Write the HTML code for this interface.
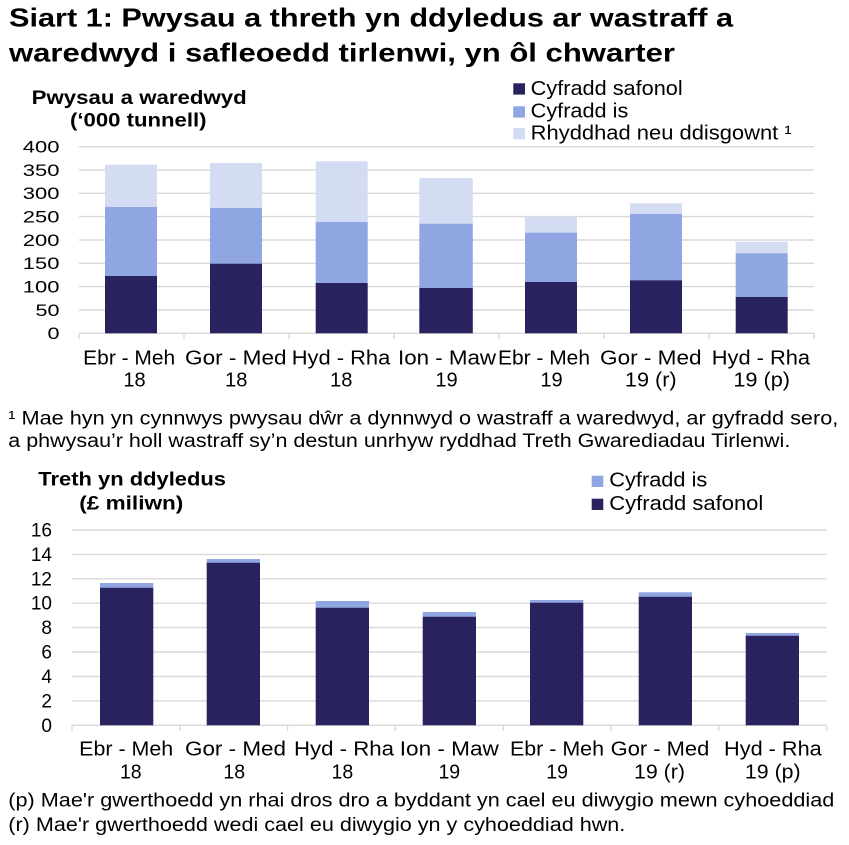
<!DOCTYPE html>
<html>
<head>
<meta charset="utf-8">
<style>
html,body{margin:0;padding:0;background:#fff;}
svg{display:block;}
text{font-family:"Liberation Sans",Arial,sans-serif;fill:#000;}
.b{font-weight:bold;}
</style>
</head>
<body>
<svg width="849" height="845" viewBox="0 0 849 845" xmlns="http://www.w3.org/2000/svg">
<!-- Title -->
<text class="b" x="9" y="26.5" font-size="26" textLength="724" lengthAdjust="spacingAndGlyphs">Siart 1: Pwysau a threth yn ddyledus ar wastraff a</text>
<text class="b" x="9" y="61.5" font-size="26" textLength="666" lengthAdjust="spacingAndGlyphs">waredwyd i safleoedd tirlenwi, yn ôl chwarter</text>

<!-- Chart 1 axis title -->
<text class="b" x="31.7" y="104" font-size="19" textLength="215" lengthAdjust="spacingAndGlyphs">Pwysau a waredwyd</text>
<text class="b" x="70" y="126.7" font-size="19" textLength="136.5" lengthAdjust="spacingAndGlyphs">(‘000 tunnell)</text>

<!-- Chart 1 legend -->
<rect x="513.3" y="83.3" width="11.7" height="11.3" fill="#28235f"/>
<text x="530.7" y="95" font-size="20" textLength="152" lengthAdjust="spacingAndGlyphs">Cyfradd safonol</text>
<rect x="513.3" y="106.3" width="11.7" height="11.3" fill="#8fa6e3"/>
<text x="530.7" y="117.3" font-size="20" textLength="97.6" lengthAdjust="spacingAndGlyphs">Cyfradd is</text>
<rect x="513.3" y="128" width="11.7" height="11.3" fill="#d3dcf3"/>
<text x="530.7" y="139.3" font-size="20" textLength="261" lengthAdjust="spacingAndGlyphs">Rhyddhad neu ddisgownt ¹</text>

<!-- Chart 1 gridlines -->
<g stroke="#d9d9d9" stroke-width="1.4">
<line x1="79" y1="146.7" x2="814" y2="146.7"/>
<line x1="79" y1="170" x2="814" y2="170"/>
<line x1="79" y1="193.3" x2="814" y2="193.3"/>
<line x1="79" y1="216.6" x2="814" y2="216.6"/>
<line x1="79" y1="240" x2="814" y2="240"/>
<line x1="79" y1="263.3" x2="814" y2="263.3"/>
<line x1="79" y1="286.6" x2="814" y2="286.6"/>
<line x1="79" y1="310" x2="814" y2="310"/>
<line x1="79" y1="333.3" x2="814" y2="333.3"/>
<line x1="79" y1="333.3" x2="79" y2="339"/>
<line x1="184" y1="333.3" x2="184" y2="339"/>
<line x1="289" y1="333.3" x2="289" y2="339"/>
<line x1="394" y1="333.3" x2="394" y2="339"/>
<line x1="499" y1="333.3" x2="499" y2="339"/>
<line x1="604" y1="333.3" x2="604" y2="339"/>
<line x1="709" y1="333.3" x2="709" y2="339"/>
<line x1="814" y1="333.3" x2="814" y2="339"/>
</g>

<!-- Chart 1 y labels -->
<g font-size="16.5" text-anchor="end">
<text x="59.5" y="152.5" textLength="36.7" lengthAdjust="spacingAndGlyphs">400</text>
<text x="59.5" y="175.8" textLength="36.7" lengthAdjust="spacingAndGlyphs">350</text>
<text x="59.5" y="199.1" textLength="36.7" lengthAdjust="spacingAndGlyphs">300</text>
<text x="59.5" y="222.4" textLength="36.7" lengthAdjust="spacingAndGlyphs">250</text>
<text x="59.5" y="245.8" textLength="36.7" lengthAdjust="spacingAndGlyphs">200</text>
<text x="59.5" y="269.1" textLength="36.7" lengthAdjust="spacingAndGlyphs">150</text>
<text x="59.5" y="292.4" textLength="36.7" lengthAdjust="spacingAndGlyphs">100</text>
<text x="59.5" y="315.8" textLength="24" lengthAdjust="spacingAndGlyphs">50</text>
<text x="59.5" y="339.1" textLength="12" lengthAdjust="spacingAndGlyphs">0</text>
</g>

<!-- Chart 1 bars -->
<g>
<rect x="105" y="164.7" width="52" height="42.3" fill="#d3dcf3"/>
<rect x="105" y="207" width="52" height="69" fill="#8fa6e3"/>
<rect x="105" y="276" width="52" height="57.3" fill="#28235f"/>

<rect x="210" y="163" width="52" height="45" fill="#d3dcf3"/>
<rect x="210" y="208" width="52" height="55.7" fill="#8fa6e3"/>
<rect x="210" y="263.7" width="52" height="69.6" fill="#28235f"/>

<rect x="315.7" y="161.3" width="52" height="60.7" fill="#d3dcf3"/>
<rect x="315.7" y="222" width="52" height="61" fill="#8fa6e3"/>
<rect x="315.7" y="283" width="52" height="50.3" fill="#28235f"/>

<rect x="419.3" y="178" width="53.5" height="45.7" fill="#d3dcf3"/>
<rect x="419.3" y="223.7" width="53.5" height="64.3" fill="#8fa6e3"/>
<rect x="419.3" y="288" width="53.5" height="45.3" fill="#28235f"/>

<rect x="525" y="216.7" width="52" height="16" fill="#d3dcf3"/>
<rect x="525" y="232.7" width="52" height="49.3" fill="#8fa6e3"/>
<rect x="525" y="282" width="52" height="51.3" fill="#28235f"/>

<rect x="630" y="203.3" width="52" height="10.7" fill="#d3dcf3"/>
<rect x="630" y="214" width="52" height="66.3" fill="#8fa6e3"/>
<rect x="630" y="280.3" width="52" height="53" fill="#28235f"/>

<rect x="735.7" y="241.7" width="52" height="11.6" fill="#d3dcf3"/>
<rect x="735.7" y="253.3" width="52" height="43.7" fill="#8fa6e3"/>
<rect x="735.7" y="297" width="52" height="36.3" fill="#28235f"/>
</g>

<!-- Chart 1 x labels -->
<g font-size="20" text-anchor="middle">
<text x="129.2" y="364.3" textLength="92" lengthAdjust="spacingAndGlyphs">Ebr - Meh</text>
<text x="235.8" y="364.3" textLength="101.5" lengthAdjust="spacingAndGlyphs">Gor - Med</text>
<text x="341" y="364.3" textLength="98.5" lengthAdjust="spacingAndGlyphs">Hyd - Rha</text>
<text x="447" y="364.3" textLength="98" lengthAdjust="spacingAndGlyphs">Ion - Maw</text>
<text x="544" y="364.3" textLength="92" lengthAdjust="spacingAndGlyphs">Ebr - Meh</text>
<text x="650.8" y="364.3" textLength="101.5" lengthAdjust="spacingAndGlyphs">Gor - Med</text>
<text x="760.9" y="364.3" textLength="98.3" lengthAdjust="spacingAndGlyphs">Hyd - Rha</text>

<text x="134.5" y="386.7" textLength="22.3" lengthAdjust="spacingAndGlyphs">18</text>
<text x="236.2" y="386.7" textLength="22.3" lengthAdjust="spacingAndGlyphs">18</text>
<text x="341.2" y="386.7" textLength="22.3" lengthAdjust="spacingAndGlyphs">18</text>
<text x="446.5" y="386.7" textLength="22.3" lengthAdjust="spacingAndGlyphs">19</text>
<text x="551.5" y="386.7" textLength="22.3" lengthAdjust="spacingAndGlyphs">19</text>
<text x="650.8" y="386.7" textLength="51.7" lengthAdjust="spacingAndGlyphs">19 (r)</text>
<text x="761.7" y="386.7" textLength="56.7" lengthAdjust="spacingAndGlyphs">19 (p)</text>
</g>

<!-- Chart 1 footnote -->
<text x="8.3" y="424.3" font-size="19" textLength="830" lengthAdjust="spacingAndGlyphs">¹ Mae hyn yn cynnwys pwysau dŵr a dynnwyd o wastraff a waredwyd, ar gyfradd sero,</text>
<text x="8.3" y="447" font-size="19" textLength="782" lengthAdjust="spacingAndGlyphs">a phwysau’r holl wastraff sy’n destun unrhyw ryddhad Treth Gwarediadau Tirlenwi.</text>

<!-- Chart 2 axis title -->
<text class="b" x="38.3" y="485.7" font-size="19" textLength="187.7" lengthAdjust="spacingAndGlyphs">Treth yn ddyledus</text>
<text class="b" x="79.3" y="509.5" font-size="19" textLength="104" lengthAdjust="spacingAndGlyphs">(£ miliwn)</text>

<!-- Chart 2 legend -->
<rect x="591.7" y="475.7" width="11.6" height="11.3" fill="#8fa6e3"/>
<text x="609.3" y="486.7" font-size="20" textLength="98" lengthAdjust="spacingAndGlyphs">Cyfradd is</text>
<rect x="591.7" y="498.7" width="11.6" height="11.3" fill="#28235f"/>
<text x="609.3" y="510" font-size="20" textLength="154" lengthAdjust="spacingAndGlyphs">Cyfradd safonol</text>

<!-- Chart 2 gridlines -->
<g stroke="#d9d9d9" stroke-width="1.4">
<line x1="72" y1="530" x2="826.7" y2="530"/>
<line x1="72" y1="554.4" x2="826.7" y2="554.4"/>
<line x1="72" y1="578.8" x2="826.7" y2="578.8"/>
<line x1="72" y1="603.2" x2="826.7" y2="603.2"/>
<line x1="72" y1="627.6" x2="826.7" y2="627.6"/>
<line x1="72" y1="652" x2="826.7" y2="652"/>
<line x1="72" y1="676.5" x2="826.7" y2="676.5"/>
<line x1="72" y1="700.9" x2="826.7" y2="700.9"/>
<line x1="72" y1="725.3" x2="826.7" y2="725.3"/>
<line x1="72" y1="725.3" x2="72" y2="731"/>
<line x1="179.8" y1="725.3" x2="179.8" y2="731"/>
<line x1="287.6" y1="725.3" x2="287.6" y2="731"/>
<line x1="395.4" y1="725.3" x2="395.4" y2="731"/>
<line x1="503.2" y1="725.3" x2="503.2" y2="731"/>
<line x1="611" y1="725.3" x2="611" y2="731"/>
<line x1="718.8" y1="725.3" x2="718.8" y2="731"/>
<line x1="826.6" y1="725.3" x2="826.6" y2="731"/>
</g>

<!-- Chart 2 y labels -->
<g font-size="19" text-anchor="end">
<text x="52" y="536.5">16</text>
<text x="52" y="560.9">14</text>
<text x="52" y="585.3">12</text>
<text x="52" y="609.7">10</text>
<text x="52" y="634.1">8</text>
<text x="52" y="658.5">6</text>
<text x="52" y="683">4</text>
<text x="52" y="707.4">2</text>
<text x="52" y="731.8">0</text>
</g>

<!-- Chart 2 bars -->
<g>
<rect x="100" y="583" width="53.3" height="4.7" fill="#8fa6e3"/>
<rect x="100" y="587.7" width="53.3" height="137.6" fill="#28235f"/>

<rect x="206.7" y="559" width="53.3" height="3.7" fill="#8fa6e3"/>
<rect x="206.7" y="562.7" width="53.3" height="162.6" fill="#28235f"/>

<rect x="315.7" y="601" width="53.3" height="6.7" fill="#8fa6e3"/>
<rect x="315.7" y="607.7" width="53.3" height="117.6" fill="#28235f"/>

<rect x="422.7" y="612" width="53.3" height="4.7" fill="#8fa6e3"/>
<rect x="422.7" y="616.7" width="53.3" height="108.6" fill="#28235f"/>

<rect x="530" y="600" width="53.3" height="2.7" fill="#8fa6e3"/>
<rect x="530" y="602.7" width="53.3" height="122.6" fill="#28235f"/>

<rect x="638.7" y="592.3" width="53.3" height="4.4" fill="#8fa6e3"/>
<rect x="638.7" y="596.7" width="53.3" height="128.6" fill="#28235f"/>

<rect x="745.7" y="633" width="53.3" height="2.7" fill="#8fa6e3"/>
<rect x="745.7" y="635.7" width="53.3" height="89.6" fill="#28235f"/>
</g>

<!-- Chart 2 x labels -->
<g font-size="20" text-anchor="middle">
<text x="126.2" y="755.7" textLength="94" lengthAdjust="spacingAndGlyphs">Ebr - Meh</text>
<text x="235.5" y="755.7" textLength="101" lengthAdjust="spacingAndGlyphs">Gor - Med</text>
<text x="344" y="755.7" textLength="100" lengthAdjust="spacingAndGlyphs">Hyd - Rha</text>
<text x="449.3" y="755.7" textLength="99" lengthAdjust="spacingAndGlyphs">Ion - Maw</text>
<text x="557" y="755.7" textLength="94" lengthAdjust="spacingAndGlyphs">Ebr - Meh</text>
<text x="660" y="755.7" textLength="98.6" lengthAdjust="spacingAndGlyphs">Gor - Med</text>
<text x="772.9" y="755.7" textLength="97.7" lengthAdjust="spacingAndGlyphs">Hyd - Rha</text>

<text x="130.8" y="778.3" textLength="21.7" lengthAdjust="spacingAndGlyphs">18</text>
<text x="234.2" y="778.3" textLength="21.7" lengthAdjust="spacingAndGlyphs">18</text>
<text x="342.4" y="778.3" textLength="21.7" lengthAdjust="spacingAndGlyphs">18</text>
<text x="449.3" y="778.3" textLength="21.7" lengthAdjust="spacingAndGlyphs">19</text>
<text x="557.1" y="778.3" textLength="21.7" lengthAdjust="spacingAndGlyphs">19</text>
<text x="659.5" y="778.3" textLength="51" lengthAdjust="spacingAndGlyphs">19 (r)</text>
<text x="772.8" y="778.3" textLength="55.7" lengthAdjust="spacingAndGlyphs">19 (p)</text>
</g>

<!-- Chart 2 footnotes -->
<text x="8.3" y="806.7" font-size="19" textLength="826" lengthAdjust="spacingAndGlyphs">(p) Mae'r gwerthoedd yn rhai dros dro a byddant yn cael eu diwygio mewn cyhoeddiad</text>
<text x="8.3" y="831" font-size="19" textLength="617" lengthAdjust="spacingAndGlyphs">(r) Mae'r gwerthoedd wedi cael eu diwygio yn y cyhoeddiad hwn.</text>
</svg>
</body>
</html>
